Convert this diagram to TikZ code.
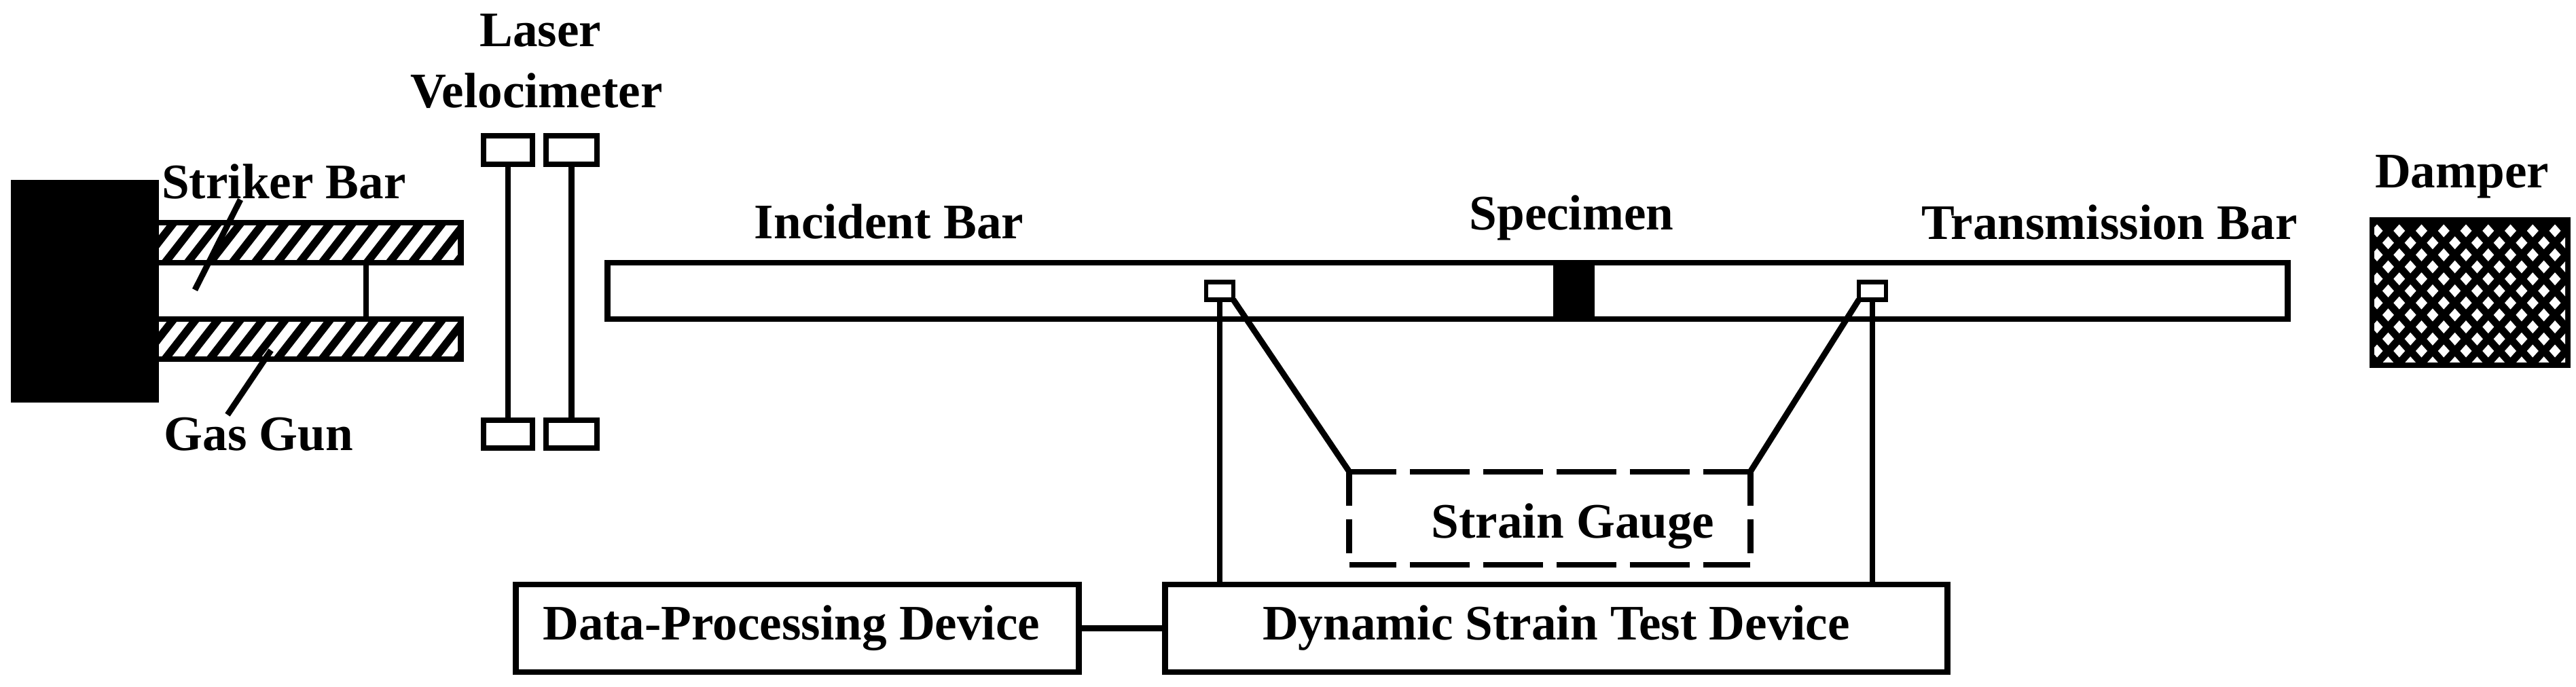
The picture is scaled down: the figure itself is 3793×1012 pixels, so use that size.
\documentclass[tikz,border=0pt]{standalone}
\usepackage{fontspec}
\setmainfont{Liberation Serif}
\tikzset{
	partbox/.style={draw=black,fill=white,rectangle,line width=2.5pt,inner sep=0pt,outer sep=0pt},
	solidpart/.style={fill=black,rectangle,inner sep=0pt,outer sep=0pt},
	gaugetab/.style={partbox,line width=1.9pt,minimum width=0.4cm,minimum height=0.26cm},
	hatchbar/.style={partbox,fill=none,minimum width=4.48cm,minimum height=0.59cm},
	wire/.style={draw=black,line width=2.5pt},
	hatchline/.style={draw=black,line width=3.3pt},
	gaugeline/.style={wire,dash pattern=on 25pt off 5.7pt,dash phase=5.4pt},
	gaugeside/.style={wire,dash pattern=on 14.2pt off 5.7pt},
	caption/.style={font=\bfseries\fontsize{20.8}{25}\selectfont,anchor=base,inner sep=0pt}
}
\begin{document}
\begin{tikzpicture}[x=0.01cm,y=-0.01cm]
	\useasboundingbox (0,0) rectangle (3793,1012);
	\fill[color=white] (0,0) rectangle (3793,1012);
	\node[hatchbar] (barupper) at (454,357.5) {};
	\node[hatchbar] (barlower) at (454,499.5) {};
	\foreach \barname in {barupper,barlower}{
		\begin{scope}
			\clip (\barname.south west) rectangle (\barname.north east);
			\foreach \i in {-2,...,14}
				\draw[hatchline] ([xshift=\i*0.33cm+0.13cm]\barname.south west) -- ++(46,-59);
		\end{scope}
	}
	\node[solidpart,minimum width=2.18cm,minimum height=3.28cm] (gun) at (125,429) {};
	\coordinate (linkmid) at (539,429);
	\draw[wire] (barupper.south -| linkmid) -- (barlower.north -| linkmid);
	\coordinate (strikertip) at (354,294);
	\coordinate (strikerend) at (287,427);
	\coordinate (gastip) at (399,516);
	\coordinate (gasend) at (335,611);
	\draw[wire] (strikertip) -- (strikerend);
	\draw[wire] (gastip) -- (gasend);
	\node[caption] (strikerlabel) at (418,292) {Striker Bar};
	\node[caption] (gaslabel) at (381,663) {Gas Gun};
	\node[caption] (laserlabel) at (796,68) {Laser};
	\node[caption] (velolabel) at (790,158) {Velocimeter};
	\node[partbox,minimum width=0.72cm,minimum height=0.42cm] (velotopa) at (748,221) {};
	\node[partbox,minimum width=0.75cm,minimum height=0.42cm] (velotopb) at (841.5,221) {};
	\node[partbox,minimum width=0.72cm,minimum height=0.41cm] (velobota) at (748,639.5) {};
	\node[partbox,minimum width=0.75cm,minimum height=0.41cm] (velobotb) at (841.5,639.5) {};
	\draw[wire] (velotopa) -- (velobota);
	\draw[wire] (velotopb) -- (velobotb);
	\node[partbox,minimum width=24.73cm,minimum height=0.83cm] (bar) at (2131.5,428.5) {};
	\node[solidpart,minimum width=0.61cm,minimum height=0.83cm] (specimen) at (2317.5,428.5) {};
	\node[gaugetab] (tableft) at (1796,428.5) {};
	\node[gaugetab] (tabright) at (2757,428.5) {};
	\node[caption] (incidentlabel) at (1309,351) {Incident Bar};
	\node[caption] (specimenlabel) at (2314,338) {Specimen};
	\node[caption] (transmissionlabel) at (3106,352) {Transmission Bar};
	\node[caption] (damperlabel) at (3625,276) {Damper};
	\node[partbox,minimum width=8.28cm,minimum height=1.29cm,font=\bfseries\fontsize{20.8}{25}\selectfont] (dataunit) at (1174,925.5) {Data-Processing Device\hspace*{5pt}};
	\node[partbox,minimum width=11.51cm,minimum height=1.29cm,font=\bfseries\fontsize{20.8}{25}\selectfont] (dynamicunit) at (2291.5,925.5) {Dynamic Strain Test Device};
	\draw[wire] (dataunit) -- (dynamicunit);
	\node[minimum width=5.90cm,minimum height=1.37cm,inner sep=0pt,outer sep=0pt] (gaugebox) at (2282,763.5) {};
	\node[caption] (gaugelabel) at (2316,792) {Strain Gauge};
	\draw[gaugeline] (gaugebox.north west) -- (gaugebox.north east);
	\draw[gaugeline] (gaugebox.south west) -- (gaugebox.south east);
	\draw[gaugeside] (gaugebox.north west) -- (gaugebox.south west);
	\draw[gaugeside] (gaugebox.north east) -- (gaugebox.south east);
	\draw[wire] (tableft.south) -- (tableft.south |- dynamicunit.north);
	\draw[wire] (tabright.south) -- (tabright.south |- dynamicunit.north);
	\draw[wire] (tableft.south east) -- (gaugebox.north west);
	\draw[wire] (tabright.south west) -- (gaugebox.north east);
	\node[solidpart,minimum width=2.96cm,minimum height=2.22cm] (damper) at (3637,431) {};
	\begin{scope}
		\clip (3496,330) rectangle (3777,533);
		\foreach \r in {0,...,11}
			\foreach \c in {-1,...,9}
				\fill[color=white] ({3500+\c*32.75+mod(\r,2)*16.4},{340+\r*17.7-9.5}) -- ++(8.5,9.5) -- ++(-8.5,9.5) -- ++(-8.5,-9.5) -- cycle;
	\end{scope}
\end{tikzpicture}
\end{document}
